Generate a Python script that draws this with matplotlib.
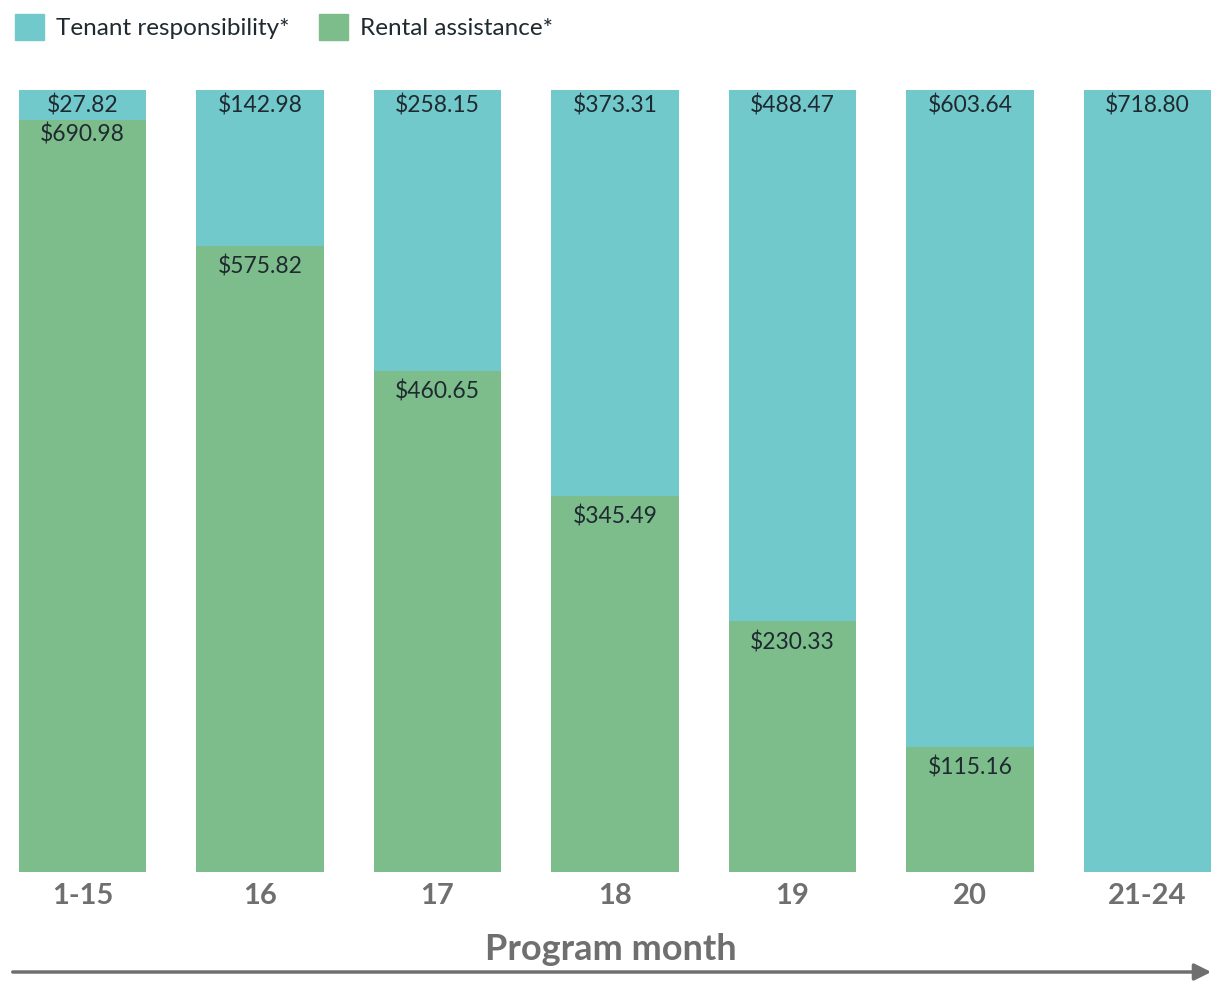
import matplotlib
matplotlib.use("Agg")
import matplotlib.pyplot as plt
from matplotlib.patches import Patch

months = ["1-15", "16", "17", "18", "19", "20", "21-24"]
tenant = [27.82, 142.98, 258.15, 373.31, 488.47, 603.64, 718.80]
assistance = [690.98, 575.82, 460.65, 345.49, 230.33, 115.16, 0.0]

TEAL = "#72c9cc"
GREEN = "#7dbd8c"
INK = "#1f2a30"
GREY = "#6f6f6f"

plt.rcParams["font.family"] = ["Lato", "DejaVu Sans"]

W, H = 1221, 991
fig = plt.figure(figsize=(W / 100, H / 100), dpi=100)
ax = fig.add_axes([19 / W, (H - 872) / H, 1192 / W, 782 / H])

x = list(range(len(months)))
bw = 0.716
ax.bar(x, assistance, bw, color=GREEN, linewidth=0)
ax.bar(x, tenant, bw, bottom=assistance, color=TEAL, linewidth=0)

top = max(t + a for t, a in zip(tenant, assistance))
ax.set_xlim(-bw / 2, len(months) - 1 + bw / 2)
ax.set_ylim(0, top)

for i, (t, a) in enumerate(zip(tenant, assistance)):
    ax.annotate(f"${t:,.2f}", (i, t + a), xytext=(0, -3), textcoords="offset points",
                ha="center", va="top", fontsize=16.5, color=INK)
    if a > 0:
        ax.annotate(f"${a:,.2f}", (i, a), xytext=(0, -2 if t < 60 else -7),
                    textcoords="offset points", ha="center", va="top",
                    fontsize=16.5, color=INK)

ax.set_xticks(x)
ax.set_xticklabels(months, fontsize=21, fontweight="bold", color=GREY)
ax.tick_params(axis="x", length=0, pad=8)
ax.set_yticks([])
for s in ax.spines.values():
    s.set_visible(False)

# legend at the top left
handles = [Patch(color=TEAL, label="Tenant responsibility*"),
           Patch(color=GREEN, label="Rental assistance*")]
fig.legend(handles=handles, loc="upper left", bbox_to_anchor=(-0.006, 1.008), ncol=2,
           frameon=False, fontsize=17.5, handlelength=1.2, handleheight=1.3,
           columnspacing=1.2, handletextpad=0.5, labelcolor=INK)

# axis title + arrow underneath
fig.text(0.5, (H - 950) / H, "Program month", ha="center", va="center",
         fontsize=26, fontweight="bold", color=GREY)
fig.add_artist(matplotlib.patches.FancyArrowPatch(
    (10 / W, (H - 972) / H), (1214 / W, (H - 972) / H), transform=fig.transFigure,
    arrowstyle="-|>,head_length=10,head_width=5", color=GREY, lw=2.5))

fig.savefig("out.png", dpi=100)
